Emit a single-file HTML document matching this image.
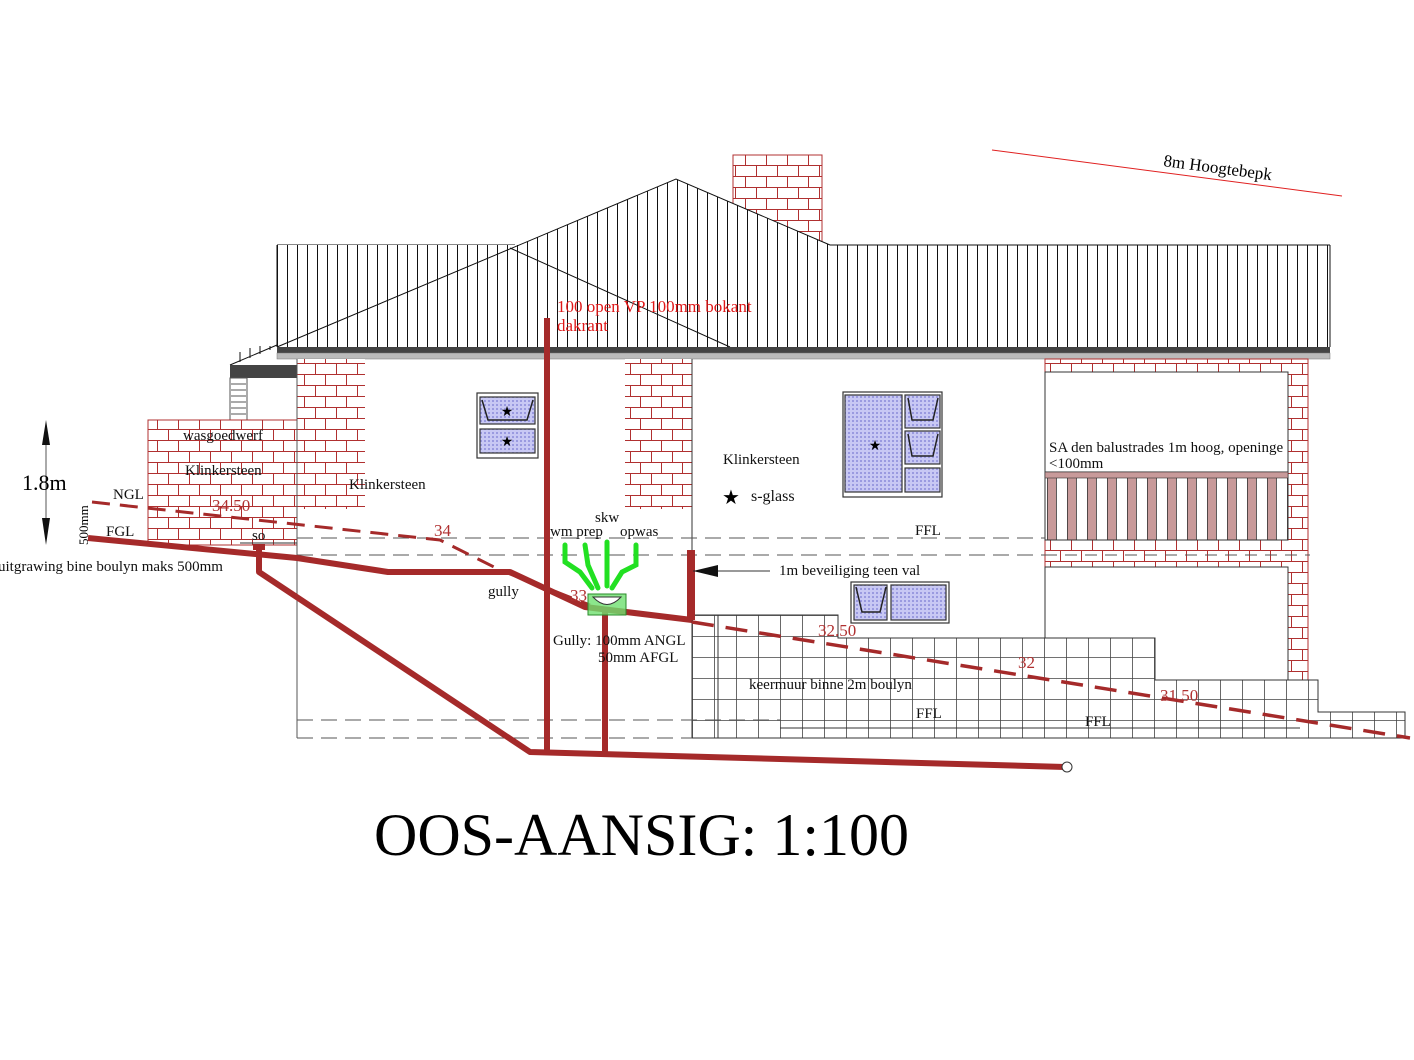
<!DOCTYPE html>
<html><head><meta charset="utf-8"><style>
html,body{margin:0;padding:0;background:#fff;}
svg{display:block;}
text{font-family:"Liberation Serif",serif;}
</style></head><body>
<svg width="1414" height="1060" viewBox="0 0 1414 1060" xmlns="http://www.w3.org/2000/svg">
<defs>
<pattern id="brick" width="42" height="22" patternUnits="userSpaceOnUse">
<rect width="42" height="22" fill="#fff"/>
<path d="M0 0.5H42M0 11.5H42M10.5 0V11M31.5 0V11M0.5 11V22M21.5 11V22" stroke="#b03030" stroke-width="1" fill="none"/>
</pattern>
<pattern id="roof" width="10" height="10" patternUnits="userSpaceOnUse" x="277">
<rect width="10" height="10" fill="#fff"/><path d="M0.5 0V10" stroke="#111" stroke-width="1"/>
</pattern>
<pattern id="stone" width="22" height="21" patternUnits="userSpaceOnUse" x="692" y="615">
<rect width="22" height="21" fill="#fff"/><path d="M0 0.5H22M0.5 0V21" stroke="#444" stroke-width="0.8" fill="none"/>
</pattern>
<pattern id="glass" width="4" height="4" patternUnits="userSpaceOnUse">
<rect width="4" height="4" fill="#c8c8f4"/><rect width="2" height="2" fill="#9a9ae0"/>
</pattern>
<pattern id="bal" width="20" height="10" patternUnits="userSpaceOnUse" x="1047">
<rect width="20" height="10" fill="#fff"/><rect x="0" width="9" height="10" fill="#c89a9a"/><path d="M0.5 0V10M9.5 0V10" stroke="#333" stroke-width="0.8"/>
</pattern>
</defs>

<line x1="992" y1="150" x2="1342" y2="196" stroke="#e02020" stroke-width="1"/>
<text x="1163" y="166" font-size="17" transform="rotate(7.5 1163 166)">8m Hoogtebepk</text>

<rect x="733" y="155" width="89" height="90" fill="url(#brick)" stroke="#b03030"/>

<rect x="277" y="245" width="1053" height="102" fill="url(#roof)"/>
<path d="M277 245V347M1330 245V347M277 245H515M830 245H1330" stroke="#111" fill="none"/>
<polygon points="277,347 676,179 830,245 277,245" fill="url(#roof)"/>
<path d="M277 347L676 179L830 245M510 248L730 347" stroke="#111" fill="none"/>
<rect x="277" y="347" width="1053" height="6" fill="#444"/>
<rect x="277" y="353" width="1053" height="6" fill="#bbb" stroke="#777" stroke-width="0.5"/>

<path d="M230 365L277 345" stroke="#111"/>
<path d="M240 362V352M250 358V348M260 354V346M270 350V346" stroke="#111"/>
<rect x="230" y="365" width="67" height="13" fill="#444"/>
<rect x="230" y="378" width="17" height="42" fill="#fff" stroke="#555"/>
<path d="M231 384H246M231 390H246M231 396H246M231 402H246M231 408H246M231 414H246" stroke="#555"/>

<rect x="148" y="420" width="149" height="125" fill="url(#brick)" stroke="#b03030"/>
<rect x="297" y="359" width="68" height="150" fill="url(#brick)"/>
<rect x="625" y="359" width="67" height="150" fill="url(#brick)"/>
<line x1="297" y1="359" x2="297" y2="738" stroke="#555"/>
<line x1="692" y1="359" x2="692" y2="615" stroke="#333"/>
<rect x="1045" y="359" width="263" height="321" fill="url(#brick)" stroke="#b03030"/>
<rect x="1045" y="372" width="243" height="100" fill="#fff" stroke="#333"/>
<rect x="1045" y="472" width="243" height="68" fill="url(#bal)" stroke="#333"/>
<rect x="1045" y="472" width="243" height="6" fill="#c89a9a" stroke="#333" stroke-width="0.6"/>
<rect x="1045" y="567" width="243" height="113" fill="#fff" stroke="#333"/>

<path d="M692 615H838V638H1155V680H1318V712H1405V738H692Z" fill="url(#stone)" stroke="#333"/>
<line x1="718" y1="615" x2="718" y2="738" stroke="#333"/>

<g stroke="#555" stroke-dasharray="16,8" stroke-width="0.9">
<line x1="297" y1="538" x2="1045" y2="538"/>
<line x1="297" y1="555" x2="1045" y2="555"/>
<line x1="297" y1="720" x2="780" y2="720"/>
<line x1="297" y1="738" x2="692" y2="738"/>
</g>
<line x1="1045" y1="555" x2="1310" y2="555" stroke="#555" stroke-dasharray="12,8"/>
<line x1="780" y1="728" x2="1300" y2="728" stroke="#333"/>

<g stroke="#333" stroke-width="1.2">
<rect x="477" y="393" width="61" height="65" fill="#fff"/>
<rect x="480" y="397" width="55" height="27" fill="url(#glass)"/>
<rect x="480" y="429" width="55" height="24" fill="url(#glass)"/>
<rect x="843" y="392" width="99" height="105" fill="#fff"/>
<rect x="845" y="395" width="57" height="97" fill="url(#glass)"/>
<rect x="905" y="395" width="35" height="33" fill="url(#glass)"/>
<rect x="905" y="431" width="35" height="33" fill="url(#glass)"/>
<rect x="905" y="468" width="35" height="24" fill="url(#glass)"/>
<rect x="851" y="582" width="98" height="41" fill="#fff"/>
<rect x="854" y="585" width="33" height="35" fill="url(#glass)"/>
<rect x="891" y="585" width="55" height="35" fill="url(#glass)"/>
</g>
<path d="M482 400L488 420H527L533 400M908 398L912 420H933L938 398M908 434L912 456H933L938 434M856 587L862 612H880L886 587" stroke="#222" fill="none" stroke-width="1.5"/>
<g font-size="14" text-anchor="middle"><text x="507" y="416">★</text><text x="507" y="446">★</text><text x="875" y="450">★</text></g>
<text x="722" y="504" font-size="20">★</text>

<path d="M92 502L440 540L500 570L590 605" stroke="#a52a2a" stroke-width="3" stroke-dasharray="18,10" fill="none"/>
<path d="M692 622L1410 738" stroke="#a52a2a" stroke-width="3.5" stroke-dasharray="22,12" fill="none"/>

<g stroke="#a52a2a" stroke-width="6" fill="none" stroke-linejoin="round">
<path d="M88 538L297 558L388 572L510 572L585 607L692 620"/>
<path d="M547 318V752"/>
<path d="M605 610V752"/>
<path d="M259 548V572L530 752L1065 767"/>
<path d="M691 550V620" stroke-width="8"/>
</g>
<rect x="253" y="544" width="12" height="6" fill="#a52a2a"/>
<circle cx="1067" cy="767" r="5" fill="#fff" stroke="#333"/>
<line x1="240" y1="543" x2="297" y2="543" stroke="#333"/>

<rect x="588" y="594" width="38" height="21" fill="#6fe06f" fill-opacity="0.8" stroke="#2a8a2a"/>
<path d="M593 597Q607 612 621 597Z" fill="#fff" stroke="#333"/>
<g stroke="#22e022" stroke-width="5" fill="none" stroke-linecap="round">
<path d="M565 545V562L580 572L592 588"/>
<path d="M585 545L588 565L598 588"/>
<path d="M607 542V586"/>
<path d="M636 545V565L622 572L612 588"/>
</g>

<line x1="46" y1="430" x2="46" y2="535" stroke="#555"/>
<polygon points="46,420 42,445 50,445" fill="#111"/>
<polygon points="46,545 42,518 50,518" fill="#111"/>
<line x1="693" y1="571" x2="770" y2="571" stroke="#333"/>
<polygon points="693,571 718,565 718,577" fill="#111"/>

<g font-size="15" fill="#111">
<text x="183" y="440">wasgoedwerf</text>
<text x="185" y="475">Klinkersteen</text>
<text x="349" y="489">Klinkersteen</text>
<text x="723" y="464">Klinkersteen</text>
<text x="751" y="501" font-size="16">s-glass</text>
<text x="113" y="499">NGL</text>
<text x="106" y="536">FGL</text>
<text x="-2" y="571">uitgrawing bine boulyn maks 500mm</text>
<text x="252" y="540">so</text>
<text x="595" y="522">skw</text>
<text x="550" y="536">wm prep</text>
<text x="620" y="536">opwas</text>
<text x="488" y="596">gully</text>
<text x="553" y="645">Gully: 100mm ANGL</text>
<text x="598" y="662">50mm AFGL</text>
<text x="915" y="535">FFL</text>
<text x="779" y="575">1m beveiliging teen val</text>
<text x="1049" y="452">SA den balustrades 1m hoog, openinge</text>
<text x="1049" y="468">&lt;100mm</text>
<text x="749" y="689">keermuur binne 2m boulyn</text>
<text x="916" y="718">FFL</text>
<text x="1085" y="726">FFL</text>
</g>
<text x="22" y="490" font-size="22">1.8m</text>
<text x="88" y="545" font-size="13" transform="rotate(-90 88 545)">500mm</text>
<g font-size="17" fill="#b03030">
<text x="212" y="511">34.50</text>
<text x="434" y="536">34</text>
<text x="570" y="601">33</text>
<text x="818" y="636">32.50</text>
<text x="1018" y="668">32</text>
<text x="1160" y="701">31.50</text>
</g>
<g font-size="17" fill="#e01818">
<text x="557" y="312">100 open VP 100mm bokant</text>
<text x="557" y="331">dakrant</text>
</g>

<text x="374" y="855" font-size="60">OOS-AANSIG: 1:100</text>
</svg>
</body></html>
